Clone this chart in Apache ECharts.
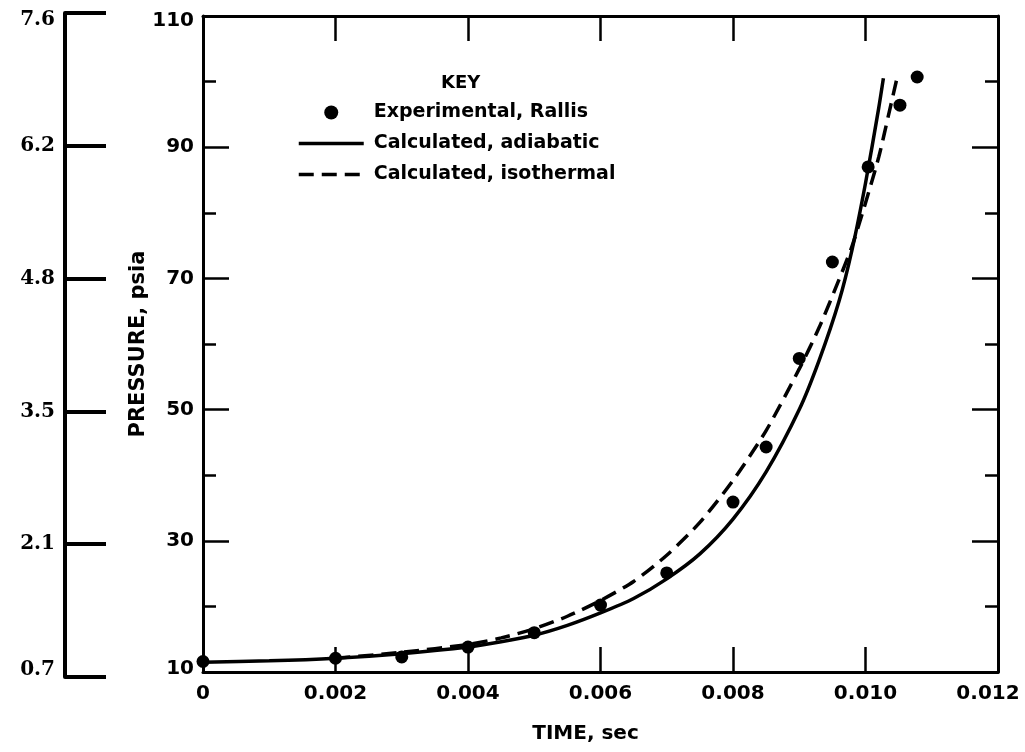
<!DOCTYPE html>
<html>
<head>
<meta charset="utf-8">
<script src="https://cdn.jsdelivr.net/npm/echarts@6/dist/echarts.min.js"></script>
<style>
html,body{margin:0;padding:0;background:#fff;}
#chart{width:1025px;height:752px;}
</style>
</head>
<body>
<div id="chart"></div>
<script>
// ---- data ----
const timeTickLabels = ['0', '0.002', '0.004', '0.006', '0.008', '0.010', '0.012'];
const pressureTickLabels = ['10', '30', '50', '70', '90', '110'];
const barTickLabels = ['0.7', '2.1', '3.5', '4.8', '6.2', '7.6'];

const seriesNames = ['Experimental, Rallis', 'Calculated, adiabatic', 'Calculated, isothermal'];

const expTime = [0, 0.002, 0.003, 0.004, 0.005, 0.006, 0.007, 0.008, 0.0085, 0.009, 0.0095, 0.01004, 0.01052, 0.01078];
const expPressure = [11.6, 12.1, 12.3, 13.8, 16.0, 20.2, 25.1, 35.9, 44.3, 57.8, 72.5, 87.0, 96.4, 100.7];

const adiabaticTime = [0, 0.001, 0.002, 0.003, 0.004, 0.0045, 0.005, 0.0055, 0.006, 0.0065, 0.007, 0.0075, 0.008, 0.0085, 0.009, 0.0093, 0.0096, 0.0098, 0.0100, 0.0102, 0.01027];
const adiabaticPressure = [11.5, 11.7, 12.1, 12.8, 13.8, 14.6, 15.6, 17.1, 19.0, 21.2, 24.2, 28.0, 33.3, 40.5, 50.0, 57.5, 66.5, 74.5, 84.5, 96.0, 100.5];

const isothermalTime = [0.002, 0.003, 0.004, 0.0045, 0.005, 0.0055, 0.006, 0.0065, 0.007, 0.0075, 0.008, 0.0085, 0.009, 0.0093, 0.0096, 0.0098, 0.0100, 0.0102, 0.01035, 0.01047];
const isothermalPressure = [12.1, 13.0, 14.2, 15.2, 16.6, 18.5, 20.9, 23.8, 27.8, 32.8, 39.2, 46.8, 56.2, 62.5, 69.8, 75.0, 81.5, 88.5, 95.0, 100.3];

const zip = (xs, ys) => xs.map((x, i) => [x, ys[i]]);

const FONT = 'DejaVu Sans';
const black = '#000';
const noLegendDot = {color: 'rgba(0,0,0,0)', borderWidth: 0, opacity: 0};

const chart = echarts.init(document.getElementById('chart'), null, {renderer: 'canvas'});

function edgeRich(fontFamily, fontWeight, fontSize, shiftTop, shiftBottom) {
  const base = {fontFamily, fontWeight, fontSize, color: black};
  return {
    n: Object.assign({}, base),
    hi: Object.assign({}, base, {padding: [shiftTop, 0, 0, 0]}),
    lo: Object.assign({}, base, {padding: [0, 0, shiftBottom, 0]})
  };
}
function edgeFormatter(labels) {
  return (v) => {
    const i = Math.round((v - 10) / 20);
    const t = labels[i];
    if (i === 0) return '{lo|' + t + '}';
    if (i === labels.length - 1) return '{hi|' + t + '}';
    return '{n|' + t + '}';
  };
}

const xRichBase = {fontFamily: FONT, fontWeight: 'bold', fontSize: 20, color: black};

const option = {
  backgroundColor: '#fff',
  animation: false,
  grid: [
    {left: 203, top: 16, right: 27, bottom: 80, outerBoundsMode: 'none', containLabel: false},
    {left: 65, top: 13, width: 40, height: 664, outerBoundsMode: 'none', containLabel: false}
  ],
  xAxis: [
    {
      gridIndex: 0, type: 'value', position: 'bottom',
      min: 0, max: 0.012, interval: 0.002,
      name: 'TIME, sec', nameLocation: 'middle', nameGap: 52,
      nameTextStyle: {fontFamily: FONT, fontWeight: 'bold', fontSize: 20, color: black, padding: [0, 30, 0, 0]},
      axisLine: {show: true, onZero: false, lineStyle: {color: black, width: 3}},
      axisTick: {show: true, inside: true, length: 25, lineStyle: {color: black, width: 2.5}},
      axisLabel: {
        show: true, margin: 12,
        formatter: (v) => {
          const i = Math.round(v / 0.002);
          return (i === timeTickLabels.length - 1 ? '{last|' : '{n|') + timeTickLabels[i] + '}';
        },
        rich: {
          n: Object.assign({}, xRichBase),
          last: Object.assign({}, xRichBase, {padding: [0, 20, 0, 0]})
        }
      },
      splitLine: {show: false}
    },
    {
      gridIndex: 0, type: 'value', position: 'top',
      min: 0, max: 0.012, interval: 0.002,
      axisLine: {show: true, onZero: false, lineStyle: {color: black, width: 3}},
      axisTick: {show: true, inside: true, length: 25, lineStyle: {color: black, width: 2.5}},
      axisLabel: {show: false},
      splitLine: {show: false}
    },
    {
      gridIndex: 1, type: 'value', show: false, min: 0, max: 1
    }
  ],
  yAxis: [
    {
      gridIndex: 0, type: 'value', position: 'left',
      min: 10, max: 110, interval: 20,
      name: 'PRESSURE, psia', nameLocation: 'middle', nameGap: 54, nameRotate: 90,
      nameMoveOverlap: false,
      nameTextStyle: {fontFamily: FONT, fontWeight: 'bold', fontSize: 21, color: black},
      axisLine: {show: true, onZero: false, lineStyle: {color: black, width: 3}},
      axisTick: {show: true, inside: true, length: 26, lineStyle: {color: black, width: 2.5}},
      minorTick: {show: true, splitNumber: 2, length: 13, lineStyle: {color: black, width: 2.5}},
      axisLabel: {
        show: true, margin: 9,
        formatter: edgeFormatter(pressureTickLabels),
        rich: edgeRich(FONT, 'bold', 20, 10, 6)
      },
      splitLine: {show: false}
    },
    {
      gridIndex: 0, type: 'value', position: 'right',
      min: 10, max: 110, interval: 20,
      axisLine: {show: true, onZero: false, lineStyle: {color: black, width: 3}},
      axisTick: {show: true, inside: true, length: 26, lineStyle: {color: black, width: 2.5}},
      minorTick: {show: true, splitNumber: 2, length: 13, lineStyle: {color: black, width: 2.5}},
      axisLabel: {show: false},
      splitLine: {show: false}
    },
    {
      gridIndex: 1, type: 'value', position: 'left',
      min: 10, max: 110, interval: 20,
      axisLine: {show: true, onZero: false, lineStyle: {color: black, width: 4}},
      axisTick: {show: true, inside: true, length: 41, lineStyle: {color: black, width: 4}},
      axisLabel: {
        show: true, margin: 10,
        formatter: edgeFormatter(barTickLabels),
        rich: edgeRich('DejaVu Serif', 'bold', 20, 14, 14)
      },
      splitLine: {show: false}
    }
  ],
  legend: {
    data: [
      {name: seriesNames[0]},
      {name: seriesNames[1], itemStyle: noLegendDot},
      {name: seriesNames[2], itemStyle: noLegendDot}
    ],
    orient: 'vertical',
    left: 297, top: 103, padding: 0,
    itemWidth: 65, itemHeight: 14, itemGap: 12,
    lineStyle: {width: 3.5},
    textStyle: {fontFamily: FONT, fontWeight: 'bold', fontSize: 19, lineHeight: 18, color: black, padding: [0, 0, 0, 5]},
    selectedMode: false
  },
  graphic: [
    {
      type: 'text', left: 441, top: 74,
      style: {text: 'KEY', fontFamily: FONT, fontWeight: 'bold', fontSize: 18, fill: black}
    }
  ],
  series: [
    {
      name: seriesNames[0], type: 'scatter', xAxisIndex: 0, yAxisIndex: 0,
      symbol: 'circle', symbolSize: 13,
      itemStyle: {color: black, opacity: 1},
      data: zip(expTime, expPressure),
      z: 5
    },
    {
      name: seriesNames[1], type: 'line', xAxisIndex: 0, yAxisIndex: 0,
      symbol: 'none', smooth: 0.25,
      lineStyle: {color: black, width: 3.5, type: 'solid'},
      itemStyle: {color: black},
      data: zip(adiabaticTime, adiabaticPressure)
    },
    {
      name: seriesNames[2], type: 'line', xAxisIndex: 0, yAxisIndex: 0,
      symbol: 'none', smooth: 0.25,
      lineStyle: {color: black, width: 3.5, type: [15, 8]},
      itemStyle: {color: black},
      data: zip(isothermalTime, isothermalPressure)
    }
  ]
};
chart.setOption(option);
</script>
</body>
</html>
